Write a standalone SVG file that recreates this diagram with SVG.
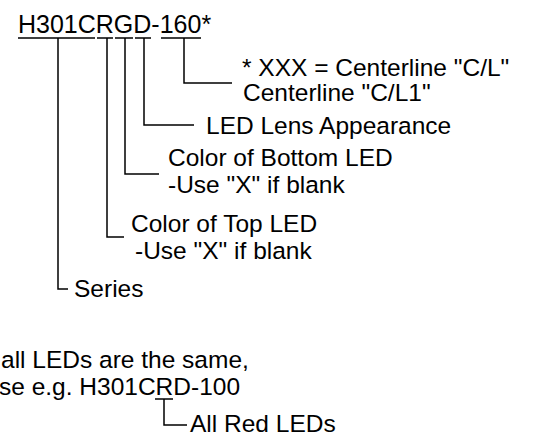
<svg xmlns="http://www.w3.org/2000/svg" width="539" height="442" viewBox="0 0 539 442">
<style>
text{font-family:"Liberation Sans",Arial,sans-serif;font-size:24.5px;fill:#000}
.t{font-size:25px}
.ln{stroke:#000;stroke-width:1.5;fill:none}
</style>
<rect width="539" height="442" fill="#fff"/>
<g id="title">
<text class="t" x="18" y="33">H301CRGD-160*</text>
<path class="ln" d="M18 38H95M97 38H113M115 38H133M135 38H151M161 38H201"/>
</g>
<g id="centerline">
<text x="242" y="76">* XXX = Centerline "C/L"</text>
<text x="243" y="101">Centerline "C/L1"</text>
</g>
<g id="lens">
<text x="206" y="134">LED Lens Appearance</text>
</g>
<g id="bottom-led">
<text x="168" y="166">Color of Bottom LED</text>
<text x="168" y="193">-Use "X" if blank</text>
</g>
<g id="top-led">
<text x="131" y="232">Color of Top LED</text>
<text x="135" y="259">-Use "X" if blank</text>
</g>
<g id="series">
<text x="74" y="297">Series</text>
</g>
<g id="note">
<text x="1" y="368">all LEDs are the same,</text>
<text x="-1" y="395">se e.g. H301CRD-100</text>
<path class="ln" d="M155 399H173"/>
</g>
<g id="all-red">
<text x="190" y="432">All Red LEDs</text>
</g>
<g id="connectors" class="ln">
<path class="ln" d="M184 38V83H232"/>
<path class="ln" d="M144 38V125H194"/>
<path class="ln" d="M125 38V174H159"/>
<path class="ln" d="M107 38V237H124"/>
<path class="ln" d="M58 38V289H68"/>
<path class="ln" d="M164 399V425H187"/>
</g>
</svg>
